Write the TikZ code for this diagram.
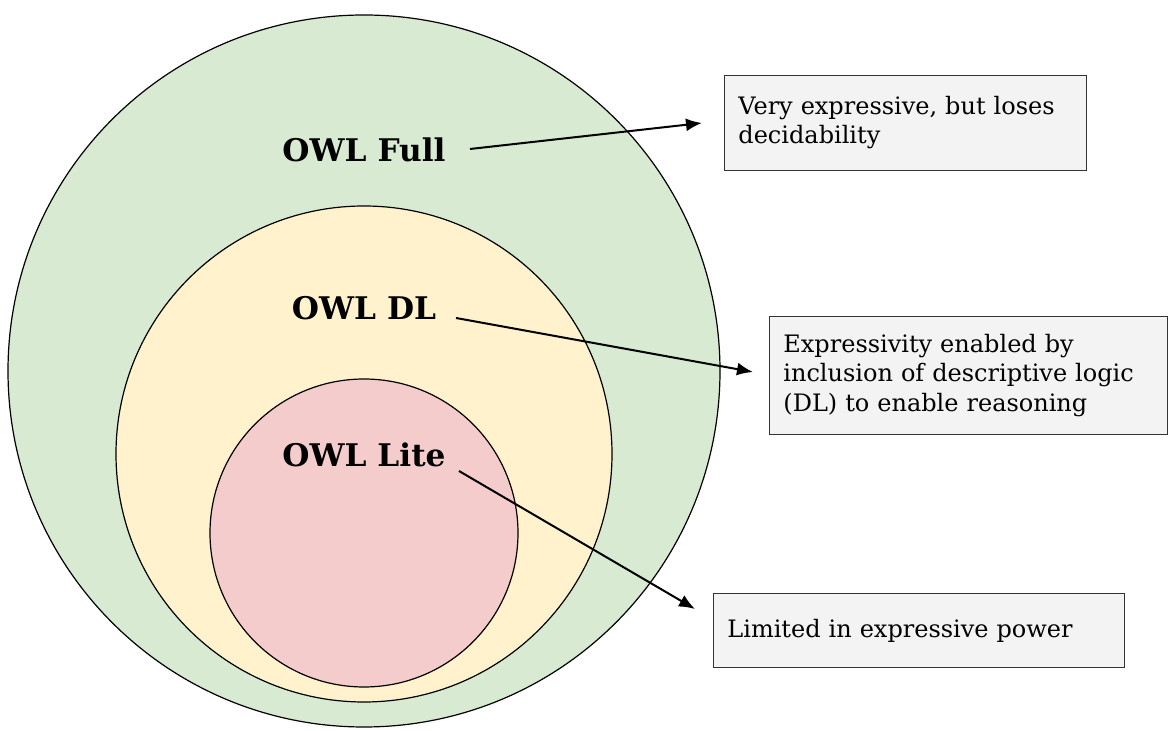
\documentclass[tikz,border=0pt]{standalone}
\usepackage{fontspec}
\setmainfont{DejaVu Serif}
\usetikzlibrary{arrows.meta}

\definecolor{fullgreen}{HTML}{D9EAD3}
\definecolor{dlyellow}{HTML}{FFF2CC}
\definecolor{litepink}{HTML}{F4CCCC}
\definecolor{boxgray}{HTML}{F3F3F3}

\tikzset{
  owllabel/.style={font=\bfseries\fontsize{15.6}{19}\selectfont},
  notebox/.style={draw=black!80,fill=boxgray,anchor=north west,inner xsep=7pt,
    align=left,font=\fontsize{12}{14.6}\selectfont},
  pointer/.style={line width=1pt,-{Latex[length=8pt,width=6.5pt]}}
}

\begin{document}
\begin{tikzpicture}
[x=0.5pt,y=-0.5pt]
\useasboundingbox (0,0) rectangle (1169,731);
\clip (0,0) rectangle (1169,731);

\draw[line width=0.6pt,fill=fullgreen] (364,371) circle[radius=356];
\draw[line width=0.6pt,fill=dlyellow] (364,454) circle[radius=248];
\draw[line width=0.6pt,fill=litepink] (364,533) circle[radius=154];

\node[owllabel] (full) at (364,150) {OWL Full};
\node[owllabel] (dl) at (364,308) {OWL DL};
\node[owllabel] (lite) at (364,455) {OWL Lite};

\node[notebox,text width=167pt,minimum height=47.5pt] (veryexp) at (724,75)
  {Very expressive, but loses\\decidability};
\node[notebox,text width=185pt,minimum height=59pt] (dlnote) at (769,316)
  {Expressivity enabled by\\inclusion of descriptive logic\\(DL) to enable reasoning};
\node[notebox,text width=191.5pt,minimum height=37pt] (litenote) at (713,593)
  {Limited in expressive power};

\coordinate (fulltail) at (470,149);
\coordinate (fullhead) at (702,123);
\coordinate (dltail) at (456,318);
\coordinate (dlhead) at (753,372);
\coordinate (litetail) at (459,471);
\coordinate (litehead) at (695,609);

\draw[pointer] (fulltail) -- (fullhead);
\draw[pointer] (dltail) -- (dlhead);
\draw[pointer] (litetail) -- (litehead);
\end{tikzpicture}
\end{document}
